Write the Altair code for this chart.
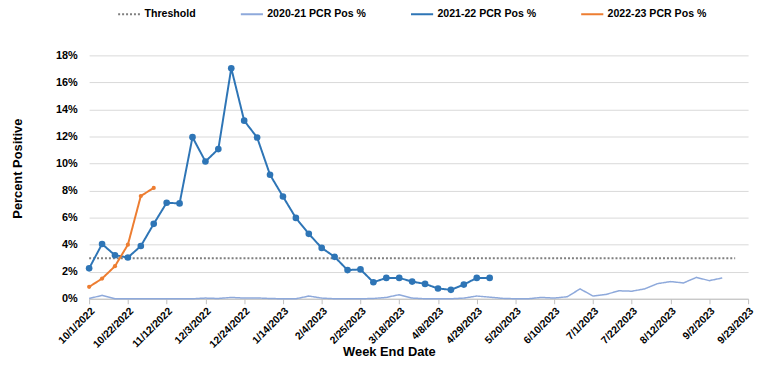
import altair as alt
import pandas as pd

# Week-end dates (x categories) and axis tick labels (every 3rd week)
week_dates = [d.strftime("%Y-%m-%d") for d in pd.date_range("2022-10-01", periods=52, freq="7D")]
tick_dates = week_dates[::3]

series_names = ["Threshold", "2020-21 PCR Pos %", "2021-22 PCR Pos %", "2022-23 PCR Pos %"]
series_colors = ["#7F7F7F", "#8EA9DB", "#2E75B6", "#ED7D31"]

# Values in percent, one per week starting 10/1/2022
threshold = [3.0] * 51
pos_2020_21 = [0.02, 0.25, 0.0, 0.0, 0.0, 0.0, 0.0, 0.0, 0.0, 0.05,
               0.02, 0.10, 0.05, 0.06, 0.02, 0.0, 0.0, 0.20, 0.05, 0.0,
               0.0, 0.0, 0.02, 0.10, 0.30, 0.05, 0.0, 0.0, 0.0, 0.05,
               0.20, 0.12, 0.03, 0.0, 0.0, 0.10, 0.05, 0.15, 0.73, 0.20,
               0.32, 0.59, 0.56, 0.73, 1.12, 1.27, 1.17, 1.58, 1.34, 1.54]
pos_2021_22 = [2.25, 4.05, 3.22, 3.05, 3.90, 5.54, 7.10, 7.05, 11.95, 10.15,
               11.07, 17.05, 13.17, 11.93, 9.17, 7.56, 5.98, 4.80, 3.76, 3.10,
               2.12, 2.17, 1.22, 1.54, 1.54, 1.27, 1.10, 0.76, 0.66, 1.05,
               1.54, 1.54]
pos_2022_23 = [0.88, 1.49, 2.41, 4.00, 7.60, 8.20]


def frame(name, vals):
    return pd.DataFrame({
        "date": week_dates[:len(vals)],
        "value": [v / 100 for v in vals],
        "series": name,
    })


def ms(d):
    return int(pd.Timestamp(d, tz="UTC").timestamp() * 1000)


FONT = "Liberation Sans"

x_enc = alt.X(
    "date:T",
    scale=alt.Scale(type="utc", domain=[ms(week_dates[0]), ms(week_dates[51])]),
    axis=alt.Axis(
        values=[ms(d) for d in tick_dates],
        labelExpr="utcFormat(datum.value, '%-m/%-d/%Y')",
        labelAngle=-45,
        labelOverlap=False,
        labelFont=FONT,
        labelFontSize=10.5,
        labelFontWeight="bold",
        labelColor="#000000",
        labelPadding=2,
        tickSize=5,
        tickColor="#BFBFBF",
        domainColor="#BFBFBF",
        grid=False,
        title="Week End Date",
        titleFont=FONT,
        titleFontSize=13,
        titleFontWeight="bold",
        titleColor="#000000",
        titleX=303,
        titleY=53,
        titleAlign="center",
        titleBaseline="middle",
    ),
)

y_enc = alt.Y(
    "value:Q",
    scale=alt.Scale(domain=[0, 0.18]),
    axis=alt.Axis(
        values=[0, 0.02, 0.04, 0.06, 0.08, 0.10, 0.12, 0.14, 0.16, 0.18],
        format=".0%",
        grid=True,
        gridColor="#D9D9D9",
        gridWidth=1,
        domain=False,
        ticks=False,
        labelFont=FONT,
        labelFontSize=11,
        labelFontWeight="bold",
        labelColor="#000000",
        labelPadding=12,
        title="Percent Positive",
        titleFont=FONT,
        titleFontSize=13,
        titleFontWeight="bold",
        titleColor="#000000",
        titleX=-72,
        titleY=114,
        titleAlign="center",
        titleBaseline="middle",
    ),
)

color_scale = alt.Scale(domain=series_names, range=series_colors)
dash_scale = alt.Scale(domain=series_names, range=[[2, 2], [1, 0], [1, 0], [1, 0]])

legend = alt.Legend(
    title=None,
    orient="none",
    legendX=28,
    legendY=-54,
    direction="horizontal",
    columns=4,
    gridAlign="none",
    columnPadding=41,
    symbolType="stroke",
    symbolSize=500,
    symbolStrokeWidth=2,
    labelFont=FONT,
    labelFontSize=10.7,
    labelFontWeight="bold",
    labelColor="#000000",
    labelOffset=3,
)


def line_layer(df, width):
    return alt.Chart(df).mark_line(strokeWidth=width).encode(
        x=x_enc,
        y=y_enc,
        color=alt.Color("series:N", scale=color_scale, legend=legend),
        strokeDash=alt.StrokeDash("series:N", scale=dash_scale, legend=legend),
    )


def point_layer(df, size):
    return alt.Chart(df).mark_point(filled=True, size=size, opacity=1).encode(
        x=x_enc,
        y=y_enc,
        color=alt.Color("series:N", scale=color_scale, legend=None),
    )


df_thr = frame(series_names[0], threshold)
df_a = frame(series_names[1], pos_2020_21)
df_b = frame(series_names[2], pos_2021_22)
df_c = frame(series_names[3], pos_2022_23)

chart = alt.layer(
    line_layer(df_thr, 2),
    line_layer(df_a, 1.5),
    line_layer(df_b, 2),
    point_layer(df_b, 45),
    line_layer(df_c, 2),
    point_layer(df_c, 18),
).properties(
    width=666,
    height=246,
    autosize=alt.AutoSizeParams(type="none"),
    padding={"left": 82, "top": 46, "right": 8, "bottom": 58},
).configure_view(stroke=None)

chart.save("out.html", embed_options={"renderer": "svg", "actions": False})
